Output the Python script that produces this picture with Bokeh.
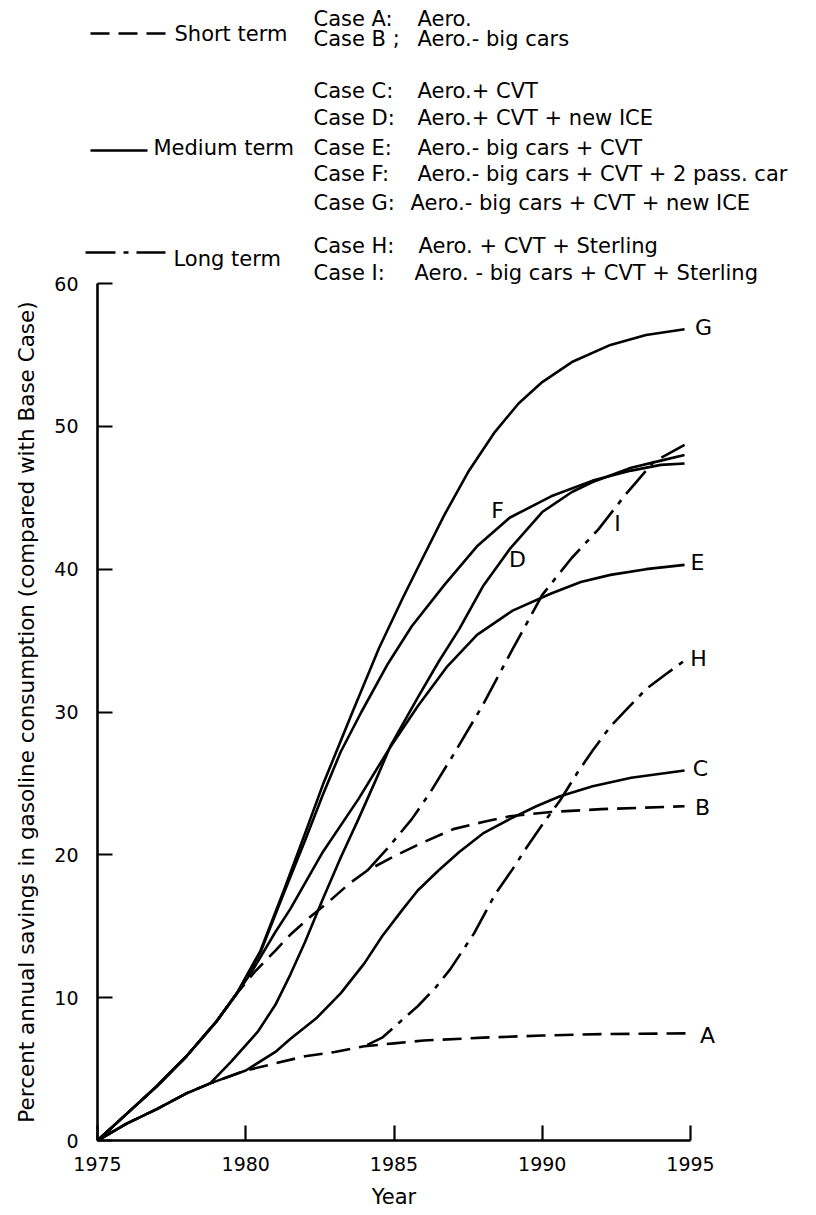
from bokeh.plotting import figure
from bokeh.models import Range1d, LinearAxis, FixedTicker
from bokeh.core.properties import value
from bokeh.embed import file_html
from bokeh.resources import INLINE

# ---------------- data ----------------
X_TICKS = [1975, 1980, 1985, 1990, 1995]
Y_TICKS = [0, 10, 20, 30, 40, 50, 60]

# common early paths
upper_x = [1975, 1976, 1977, 1978, 1979, 1979.7]
upper_y = [0, 1.9, 3.8, 5.9, 8.3, 10.3]
lower_x = [1975, 1976, 1977, 1978, 1978.8]
lower_y = [0, 1.2, 2.2, 3.3, 4.0]

# short term (dashed)
A_x = lower_x + [1980.0, 1981.0, 1982.0, 1983.0, 1984.0, 1985.0, 1986.0, 1988.0, 1990.0, 1992.0, 1994.9]
A_y = lower_y + [4.9, 5.4, 5.9, 6.2, 6.6, 6.8, 7.0, 7.2, 7.35, 7.45, 7.5]
B_x = upper_x + [1980.3, 1981.0, 1981.5, 1982.2, 1982.9, 1983.5, 1984.1, 1985.0, 1985.9, 1987.0, 1988.0, 1988.9, 1990.3, 1992.0, 1994.8]
B_y = upper_y + [11.8, 13.3, 14.4, 15.7, 16.9, 18.0, 18.9, 19.9, 20.8, 21.8, 22.3, 22.7, 23.0, 23.2, 23.4]

# medium term (solid)
C_x = lower_x + [1980.0, 1981.0, 1981.5, 1982.4, 1983.2, 1984.0, 1984.6, 1985.3, 1985.8, 1986.5, 1987.2, 1988.0, 1988.9, 1989.8, 1990.6, 1991.7, 1993.0, 1994.8]
C_y = lower_y + [4.9, 6.2, 7.1, 8.6, 10.3, 12.4, 14.3, 16.2, 17.5, 18.9, 20.2, 21.5, 22.5, 23.4, 24.1, 24.8, 25.4, 25.9]
D_x = lower_x + [1979.5, 1980.4, 1981.0, 1981.5, 1982.0, 1982.6, 1983.2, 1983.8, 1984.4, 1984.9, 1985.8, 1986.5, 1987.2, 1988.0, 1988.9, 1990.0, 1991.0, 1991.7, 1993.0, 1994.0, 1994.8]
D_y = lower_y + [5.5, 7.6, 9.5, 11.6, 13.9, 16.9, 19.8, 22.5, 25.3, 27.7, 31.0, 33.5, 35.8, 38.8, 41.4, 44.0, 45.4, 46.1, 47.1, 47.6, 48.0]
E_x = upper_x + [1980.2, 1981.0, 1981.5, 1982.6, 1983.8, 1984.8, 1985.8, 1986.8, 1987.8, 1989.0, 1990.3, 1991.3, 1992.3, 1993.5, 1994.8]
E_y = upper_y + [11.8, 14.6, 16.2, 20.2, 23.9, 27.3, 30.4, 33.2, 35.4, 37.1, 38.3, 39.1, 39.6, 40.0, 40.3]
F_x = upper_x + [1980.5, 1981.3, 1982.0, 1982.6, 1983.2, 1983.9, 1984.8, 1985.6, 1986.7, 1987.8, 1988.9, 1990.3, 1991.7, 1993.0, 1994.0, 1994.8]
F_y = upper_y + [13.2, 17.4, 21.0, 24.2, 27.2, 30.0, 33.4, 36.0, 38.9, 41.6, 43.6, 45.1, 46.2, 46.9, 47.3, 47.4]
G_x = upper_x + [1980.5, 1981.3, 1982.0, 1982.6, 1983.6, 1984.5, 1985.3, 1985.9, 1986.7, 1987.5, 1988.4, 1989.2, 1990.0, 1991.0, 1992.3, 1993.5, 1994.8]
G_y = upper_y + [13.3, 17.6, 21.5, 24.9, 30.0, 34.5, 38.0, 40.5, 43.8, 46.8, 49.6, 51.6, 53.1, 54.5, 55.7, 56.4, 56.8]

# long term (dash-dot)
H_x = [1984.1, 1984.6, 1985.2, 1985.8, 1986.4, 1986.9, 1987.7, 1988.4, 1989.0, 1989.5, 1990.0, 1990.6, 1991.2, 1991.7, 1992.3, 1992.9, 1993.5, 1994.2, 1994.8]
H_y = [6.7, 7.2, 8.3, 9.4, 10.7, 12.0, 14.5, 17.2, 19.0, 20.6, 22.1, 23.8, 25.8, 27.3, 29.0, 30.3, 31.6, 32.7, 33.6]
I_x = [1984.1, 1984.8, 1985.6, 1986.2, 1987.0, 1988.0, 1989.0, 1990.0, 1991.0, 1991.9, 1992.8, 1993.75, 1994.8]
I_y = [18.9, 20.5, 22.5, 24.3, 27.0, 30.5, 34.4, 38.2, 40.8, 42.8, 45.2, 47.5, 48.7]

CASE_PREFIX = ["Case A:", "Case B ;", "Case C:", "Case D:", "Case E:", "Case F:", "Case G:", "Case H:", "Case I:"]
CASE_TEXT = ["Aero.", "Aero.- big cars", "Aero.+ CVT", "Aero.+ CVT + new ICE",
             "Aero.- big cars + CVT", "Aero.- big cars + CVT + 2 pass. car",
             "Aero.- big cars + CVT + new ICE", "Aero. + CVT + Sterling",
             "Aero. - big cars + CVT + Sterling"]
TERMS = ["Short term", "Medium term", "Long term"]

# ---------------- layout (pixel geometry) ----------------
W, H = 816, 1215
PX_X0, PX_X1 = 97, 690      # pixel x of 1975 and 1995
PX_Y0, PX_Y60 = 1140, 283   # pixel y of 0 and 60
sx = (PX_X1 - PX_X0) / 20.0
sy = (PX_Y0 - PX_Y60) / 60.0


def X(px):
    return 1975 + (px - PX_X0) / sx


def Y(py):
    return (PX_Y0 - py) / sy


FONT = value("DejaVu Sans")
LW = 2.6
DASH = "19 9"
DASHDOT = "30 8 5 8"
LEG_SIZE = "21px"

p = figure(width=W, height=H, x_range=Range1d(X(0), X(W)), y_range=Range1d(Y(H), Y(0)),
           output_backend="svg", toolbar_location=None, title=None,
           x_axis_type=None, y_axis_type=None, min_border=0)
p.outline_line_color = None
p.background_fill_color = "white"
p.border_fill_color = "white"

# axes
yax = LinearAxis(fixed_location=1975, bounds=(0, 60), ticker=FixedTicker(ticks=Y_TICKS))
xax = LinearAxis(fixed_location=0, bounds=(1975, 1995), ticker=FixedTicker(ticks=X_TICKS))
for ax in (yax, xax):
    ax.axis_line_width = 2.6
    ax.axis_line_color = "black"
    ax.major_tick_line_width = 2.2
    ax.major_tick_line_color = "black"
    ax.major_tick_in = 15
    ax.major_tick_out = 0
    ax.minor_tick_in = 0
    ax.minor_tick_out = 0
    ax.major_label_text_font = "DejaVu Sans"
    ax.major_label_text_font_size = "19px"
    ax.major_label_text_color = "black"
    ax.axis_label_text_font = "DejaVu Sans"
    ax.axis_label_text_font_style = "normal"
    ax.axis_label_text_color = "black"
yax.axis_label = "Percent annual savings in gasoline consumption (compared with Base Case)"
yax.axis_label_text_font_size = "21.5px"
yax.major_label_standoff = 19
yax.axis_label_standoff = 12
xax.axis_label = "Year"
xax.axis_label_text_font_size = "21px"
xax.major_label_standoff = 16
xax.axis_label_standoff = 11
p.add_layout(yax, "left")
p.add_layout(xax, "below")

# curves
for xs, ys in [(A_x, A_y), (B_x, B_y)]:
    p.line(xs, ys, line_width=LW, color="black", line_dash=DASH)
for xs, ys in [(H_x, H_y), (I_x, I_y)]:
    p.line(xs, ys, line_width=LW, color="black", line_dash=DASHDOT)
for xs, ys in [(C_x, C_y), (D_x, D_y), (E_x, E_y), (F_x, F_y), (G_x, G_y)]:
    p.line(xs, ys, line_width=LW, color="black", line_join="round")

# curve labels
lab_txt = ["G", "E", "H", "C", "B", "A", "F", "D", "I"]
lab_px = [703, 697, 698, 700, 702, 707, 497, 517, 617]
lab_py = [327, 562, 658, 768, 807, 1035, 510, 559, 523]
p.text(x=[X(v) for v in lab_px], y=[Y(v) for v in lab_py], text=lab_txt,
       text_font=FONT, text_font_size="22px", text_align="center",
       text_baseline="middle", text_color="black")

# legend at top
case_py = [18, 38, 90, 117, 147, 173, 202, 245, 272]
desc_px = [417, 417, 417, 417, 417, 417, 410, 418, 414]
p.text(x=[X(313)] * 9, y=[Y(v) for v in case_py], text=CASE_PREFIX,
       text_font=FONT, text_font_size=LEG_SIZE, text_align="left",
       text_baseline="middle", text_color="black")
p.text(x=[X(v) for v in desc_px], y=[Y(v) for v in case_py], text=CASE_TEXT,
       text_font=FONT, text_font_size=LEG_SIZE, text_align="left",
       text_baseline="middle", text_color="black")

term_px = [174, 153, 173]
term_py = [33, 147, 258]
p.text(x=[X(v) for v in term_px], y=[Y(v) for v in term_py], text=TERMS,
       text_font=FONT, text_font_size=LEG_SIZE, text_align="left",
       text_baseline="middle", text_color="black")

# legend key samples
p.line([X(90), X(165)], [Y(33), Y(33)], line_width=LW, color="black", line_dash=DASH)
p.line([X(90), X(147)], [Y(150), Y(150)], line_width=LW, color="black")
p.line([X(85), X(165)], [Y(252), Y(252)], line_width=LW, color="black", line_dash=DASHDOT)

open("out.html", "w").write(file_html(p, INLINE))
